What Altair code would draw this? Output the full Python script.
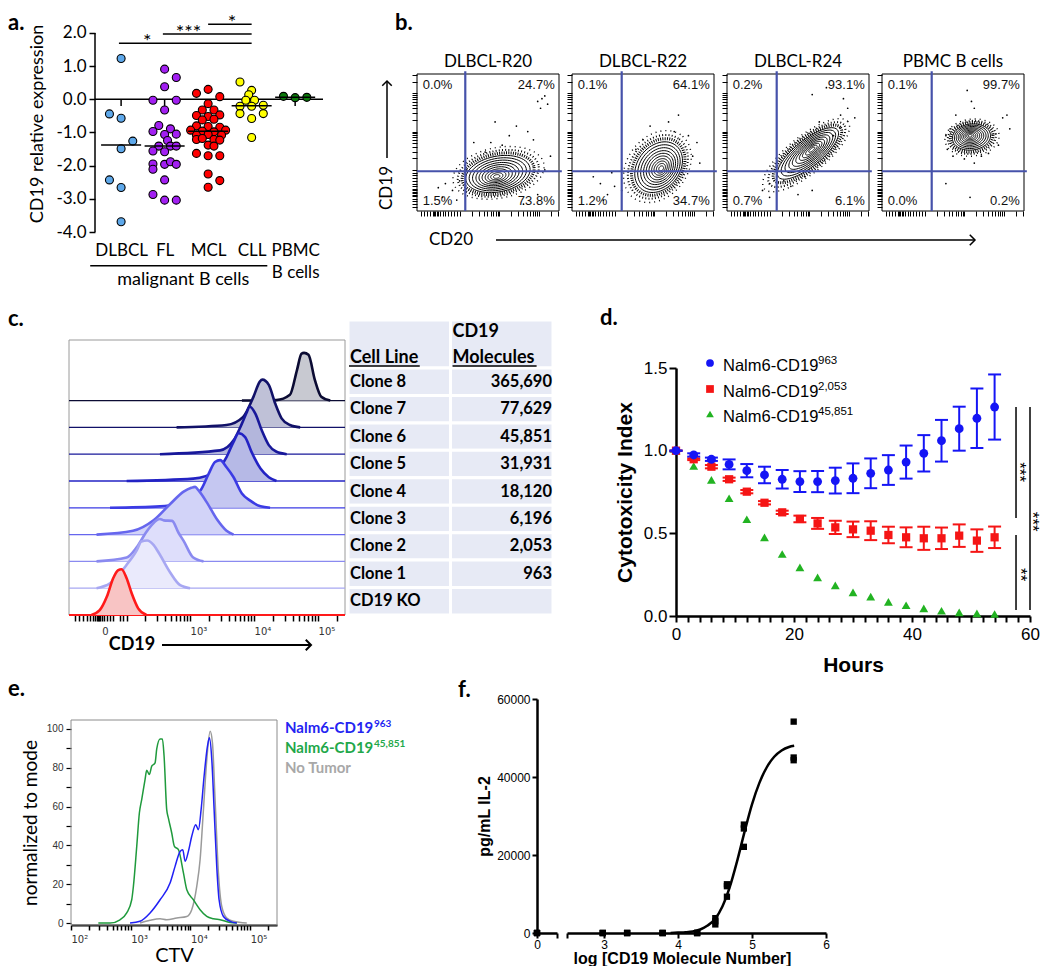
import math
import altair as alt
import pandas as pd

SANS = "Liberation Sans"
CAL = "Lato"
SUPF = "DejaVu Sans"

# ======================= DATA =======================
# (a) CD19 relative expression; dx = horizontal dot offset (half-dot steps)
A_GROUPS = ["DLBCL", "FL", "MCL", "CLL", "PBMC"]
A_COLORS = ["#5ea8ea", "#a21ff2", "#ff0000", "#ffff00", "#0b7a0b"]
DLBCL_DX = [0, -2, 0, 2, 0, -2, 0, 0]
DLBCL_VAL = [1.23, -0.44, -0.57, -1.26, -1.49, -2.43, -2.66, -3.69]
FL_DX = [0, 2, 0, -2, 2, 0, -1, -2, 1, 0, 2, 0.5, -1, 1, 2, -2, 0, -2, -2, 0, 1, 2, 0, -2, 0, 2]
FL_VAL = [0.91, 0.66, 0.38, -0.03, -0.03, -0.32, -0.79, -0.97, -0.89, -1.06, -1.05, -1.24, -1.41,
          -1.41, -1.41, -1.56, -1.58, -1.95, -2.11, -1.96, -1.88, -1.96, -2.43, -2.87, -3.04, -3.04]
MCL_DX = [0, -2, 2, 0, -1, 1, -2, 0, 2, -1, 1, -2, 0, 2, -3, -1, 1, 3, -2, 0, 2.3, -2, -1, 1, 2,
          0, 1, -2, 0, 2, 0, 2, 0]
MCL_VAL = [0.30, 0.18, 0.08, -0.13, -0.32, -0.32, -0.49, -0.52, -0.47, -0.62, -0.60, -0.80, -0.82,
           -0.84, -0.93, -0.96, -0.98, -0.93, -1.08, -1.06, -1.08, -1.21, -1.18, -1.21, -1.23,
           -1.38, -1.41, -1.63, -1.70, -1.70, -2.25, -2.45, -2.65]
CLL_DX = [-2, 0, -0.5, -1, 0.5, -2, 0, 2, -2, 2, 0, 0]
CLL_VAL = [0.52, 0.27, 0.14, -0.03, -0.03, -0.21, -0.21, -0.18, -0.43, -0.43, -0.58, -1.15]
PBMC_DX = [-2, 0, 2]
PBMC_VAL = [0.09, 0.05, 0.06]
A_SIG_X1 = [0.95, 1.96, 3.0]
A_SIG_X2 = [4.0, 4.0, 4.0]
A_SIG_Y = [1.69, 1.97, 2.26]
A_SIG_TXT = ["*", "***", "*"]
A_SIG_TXT_X = [1.6, 2.55, 3.55]

# (b) flow plots
B_TITLES = ["DLBCL-R20", "DLBCL-R22", "DLBCL-R24", "PBMC B cells"]
B_PCT_TL = ["0.0%", "0.1%", "0.2%", "0.1%"]
B_PCT_TR = ["24.7%", "64.1%", "93.1%", "99.7%"]
B_PCT_BL = ["1.5%", "1.2%", "0.7%", "0.0%"]
B_PCT_BR = ["73.8%", "34.7%", "6.1%", "0.2%"]
B_GATE_X = [34, 35, 35, 35]
B_GATE_Y = [29, 29, 29, 29]
B_CX = [57, 61, 57, 63]
B_CY = [27, 32, 42, 54]
B_A = [23, 20, 27, 13.5]
B_B = [13, 15, 9.5, 9.5]
B_ANG = [12, 55, 40, 8]
B_CORE_X = [56, 63, 60, 62]
B_CORE_Y = [25, 31, 45, 55]
B_DOT_X = [
    [85, 88, 90, 92, 87, 65, 55, 70, 78, 82, 52, 60, 40, 48, 35, 20, 25, 30, 18, 28, 15, 75, 85, 90, 94],
    [20, 25, 15, 30, 22, 35, 28, 68, 75, 82, 88, 72, 55, 50, 85, 90, 45],
    [30, 35, 25, 40, 45, 50, 60, 80, 85, 70, 82, 60, 75, 90, 65, 30, 55],
    [60, 63, 65, 52, 85, 88, 90, 45, 46, 58, 70, 65, 82, 50, 45, 62, 75, 48],
]
B_DOT_Y = [
    [80, 82, 84, 78, 75, 55, 65, 62, 58, 52, 50, 48, 50, 43, 30, 20, 15, 22, 10, 8, 17, 5, 12, 30, 40],
    [20, 12, 25, 18, 8, 15, 28, 65, 70, 55, 50, 58, 62, 52, 40, 35, 45],
    [20, 25, 15, 22, 18, 12, 15, 70, 75, 90, 82, 85, 55, 68, 65, 10, 25],
    [88, 80, 75, 70, 68, 70, 60, 55, 45, 38, 40, 35, 48, 40, 20, 10, 42, 60],
]

# (c) offset histograms (x in decades, h relative to mode) and table
C_NAMES = ["CD19 KO", "Clone 1", "Clone 2", "Clone 3", "Clone 4", "Clone 5", "Clone 6", "Clone 7", "Clone 8"]
C_MOLECULES = [None, 963, 2053, 6196, 18120, 31931, 45851, 77629, 365690]
C_CURVE_X = [
    [1.46, 1.59, 1.70, 1.80, 1.88, 1.93, 2.01, 2.09, 2.19, 2.32],
    [1.54, 1.75, 2.01, 2.17, 2.24, 2.33, 2.43, 2.53, 2.69, 2.84, 3.00],
    [1.54, 2.01, 2.17, 2.33, 2.53, 2.59, 2.72, 2.82, 2.90, 3.05, 3.21],
    [1.54, 2.11, 2.43, 2.69, 2.90, 3.02, 3.08, 3.13, 3.26, 3.42, 3.57, 3.68],
    [1.75, 2.53, 2.79, 3.16, 3.29, 3.39, 3.47, 3.57, 3.68, 3.81, 3.94, 4.10, 4.25],
    [2.01, 3.05, 3.42, 3.57, 3.68, 3.76, 3.86, 3.96, 4.10, 4.23, 4.35],
    [2.53, 3.47, 3.68, 3.81, 3.89, 3.93, 4.02, 4.12, 4.23, 4.35, 4.51],
    [2.79, 3.57, 3.83, 3.99, 4.09, 4.13, 4.23, 4.33, 4.43, 4.56, 4.72],
    [3.81, 4.35, 4.56, 4.67, 4.74, 4.78, 4.85, 4.95, 5.05, 5.19],
]
C_CURVE_H = [
    [0, 0.10, 0.38, 0.77, 0.94, 0.96, 0.77, 0.45, 0.14, 0],
    [0, 0.10, 0.49, 0.80, 0.98, 1.0, 0.91, 0.70, 0.33, 0.07, 0],
    [0, 0.08, 0.30, 0.64, 0.89, 0.86, 0.85, 0.60, 0.43, 0.08, 0],
    [0, 0.08, 0.30, 0.64, 0.90, 0.98, 1.0, 0.93, 0.68, 0.32, 0.08, 0],
    [0, 0.03, 0.08, 0.36, 0.71, 0.96, 1.0, 0.85, 0.64, 0.30, 0.15, 0.03, 0],
    [0, 0.05, 0.22, 0.50, 0.82, 1.0, 0.92, 0.61, 0.26, 0.08, 0],
    [0, 0.08, 0.29, 0.64, 0.89, 1.0, 0.85, 0.50, 0.19, 0.05, 0],
    [0, 0.05, 0.22, 0.64, 0.96, 1.0, 0.89, 0.50, 0.19, 0.05, 0],
    [0, 0.01, 0.12, 0.64, 0.98, 1.0, 0.96, 0.43, 0.08, 0],
]
C_LINE = ["#ff1a1a", "#a7a7f2", "#8a8af0", "#6666ee", "#3b3be4", "#2323c4", "#18189a", "#111168", "#0b0b33"]
C_FILL = ["#f8c4c4", "#eaeafc", "#dedefb", "#d2d3f8", "#c5c7f1", "#b6b9e6", "#b3b6dc", "#bfc1d7", "#c8c9d1"]

# (d) cytotoxicity
D_T = [0, 3, 6, 9, 12, 15, 18, 21, 24, 27, 30, 33, 36, 39, 42, 45, 48, 51, 54]
D_BLUE = [1.00, 0.974, 0.948, 0.917, 0.879, 0.853, 0.827, 0.813, 0.813, 0.819, 0.833, 0.863, 0.883,
          0.931, 0.984, 1.060, 1.133, 1.196, 1.264]
D_BLUE_ERR = [0.0, 0.01, 0.01, 0.03, 0.04, 0.05, 0.056, 0.063, 0.064, 0.078, 0.09, 0.09, 0.09, 0.10,
              0.11, 0.126, 0.133, 0.18, 0.197]
D_RED = [1.00, 0.948, 0.903, 0.827, 0.752, 0.685, 0.627, 0.587, 0.560, 0.536, 0.524, 0.516, 0.490,
         0.476, 0.470, 0.470, 0.486, 0.456, 0.476]
D_RED_ERR = [0, 0.005, 0.01, 0.01, 0.01, 0.01, 0.01, 0.02, 0.033, 0.04, 0.047, 0.057, 0.05, 0.06,
             0.07, 0.065, 0.068, 0.068, 0.065]
D_GREEN = [1.00, 0.907, 0.823, 0.712, 0.585, 0.476, 0.375, 0.294, 0.234, 0.185, 0.143, 0.117, 0.085,
           0.065, 0.046, 0.032, 0.022, 0.016, 0.012]
D_BLUE_C, D_RED_C, D_GREEN_C = "#1515f5", "#f51515", "#22b322"
D_SIG_X = [57.63, 57.63, 60.0]
D_SIG_Y1 = [1.264, 0.49, 1.264]
D_SIG_Y2 = [0.593, 0.036, 0.036]
D_SIG_TXT = ["***", "**", "***"]
D_SIG_TXT_X = [58.15, 58.3, 60.3]
D_SIG_TXT_Y = [0.87, 0.25, 0.57]

# (e) CTV histograms (x = log10 CTV, y = % of mode)
E_GREEN_X = [2.458, 2.654, 2.821, 2.933, 3.017, 3.045, 3.101, 3.145, 3.184, 3.240, 3.268, 3.313, 3.352,
             3.408, 3.436, 3.492, 3.531, 3.559, 3.603, 3.631, 3.687, 3.732, 3.799, 3.883, 3.939, 4.050,
             4.162, 4.274, 4.385, 4.497, 4.665, 4.777]
E_GREEN_Y = [0, 0, 1.7, 5.2, 12, 18.9, 39.5, 56.7, 63.6, 73.9, 78.7, 76.5, 80.8, 82.5, 89.7, 94.8, 94.8,
             85.9, 58.4, 54.1, 46.4, 39.5, 37.8, 25.8, 17.2, 12, 6.9, 3.4, 2.2, 1.7, 0.3, 0]
E_BLUE_X = [2.989, 3.156, 3.324, 3.492, 3.659, 3.743, 3.827, 3.872, 3.911, 3.966, 4.022, 4.089, 4.134,
            4.179, 4.229, 4.285, 4.318, 4.358, 4.397, 4.441, 4.480, 4.553, 4.665, 4.777]
E_BLUE_Y = [0, 0.9, 5.2, 12, 20.6, 29.2, 36.9, 37.8, 31.8, 36.9, 44.7, 50.7, 48.1, 58.4, 75.6, 91,
            95.4, 84.2, 58.4, 29.2, 12, 3.4, 0.9, 0]
E_GRAY_X = [3.156, 3.324, 3.492, 3.603, 3.771, 3.939, 4.022, 4.106, 4.162, 4.218, 4.274, 4.330, 4.369,
            4.413, 4.469, 4.525, 4.609, 4.721, 4.944]
E_GRAY_Y = [0, 1.4, 2.2, 1.7, 2.6, 3.4, 6.9, 18.9, 32.6, 58.4, 84.2, 98.8, 92.8, 63.6, 25.8, 8.6, 2.6,
            0.9, 0]

# (f) IL-2 vs log CD19 molecules
F_KO_Y = [0, 0, 0]
F_CLONE_Y = [[0, 0, 0], [0, 0, 0], [0, 0, 0], [0, 0, 0], [3800, 3000, 2200], [12500, 12000, 9300],
             [27800, 26800, 22100], [54200, 45000, 44300]]
F_FIT_X = [3.9, 4.0, 4.1, 4.2, 4.3, 4.4, 4.5, 4.6, 4.7, 4.8, 4.9, 5.0, 5.1, 5.2, 5.3, 5.4, 5.5, 5.57]
F_FIT_Y = [0, 100, 200, 400, 900, 1900, 3600, 6800, 11800, 18500, 26000, 33000, 38500, 42500, 45200,
           46800, 47700, 48000]

# ======================= LAYOUT HELPERS =======================
W, H = 1034, 958          # whole plot area (fits the 1050x980 window with its 8px margin)
M = 8                     # page margin: page coordinate = plot coordinate + 8
ONE = pd.DataFrame({"k": [0]})


def P(v):
    return v - M


def bottom_off(page_y):
    return P(page_y) - H


def left_off(page_x):
    return -P(page_x)


def ptext(txt, x, y, size=22, font=CAL, weight="bold", align="left", baseline="top",
          color="black", angle=0):
    """annotation text at page position (x, y)"""
    return alt.Chart(ONE).mark_text(
        text=txt, font=font, fontSize=size, fontWeight=weight, align=align,
        baseline=baseline, color=color, angle=angle
    ).encode(x=alt.value(P(x)), y=alt.value(P(y)))


def prule(x1, y1, x2, y2, width=1.5, color="black"):
    return alt.Chart(ONE).mark_rule(color=color, strokeWidth=width).encode(
        x=alt.value(P(x1)), y=alt.value(P(y1)), x2=alt.value(P(x2)), y2=alt.value(P(y2)))


def phead(x, y, path, size=100, width=1.5):
    return alt.Chart(ONE).mark_point(shape=path, filled=False, size=size, color="black",
                                     strokeWidth=width, opacity=1).encode(
        x=alt.value(P(x)), y=alt.value(P(y)))


def log_ticks(starts, width, upto):
    out = []
    for s in starts:
        for k in range(1, 10):
            v = s + width * math.log10(k)
            if v <= upto:
                out.append(round(v, 3))
    return out


def sc(domain, page_from, page_to):
    return alt.Scale(domain=domain, range=[P(page_from), P(page_to)], nice=False, zero=False)


# ======================= PANEL A =======================
a_rows = []
for gi, (dxs, vals) in enumerate([(DLBCL_DX, DLBCL_VAL), (FL_DX, FL_VAL), (MCL_DX, MCL_VAL),
                                  (CLL_DX, CLL_VAL), (PBMC_DX, PBMC_VAL)]):
    for dx, v in zip(dxs, vals):
        a_rows.append({"grp": A_GROUPS[gi], "cat": gi + 1, "xpos": gi + 1 + dx * 0.134, "val": v})
df_a = pd.DataFrame(a_rows)

AX_SC = sc([0.4, 5.64], 95, 323)
AY_SC = sc([-4, 2.542], 232, 15)
a_xaxis = alt.Axis(
    orient="bottom", offset=bottom_off(232), values=[1, 2, 3, 4, 5],
    labelExpr="datum.value == 1 ? 'DLBCL' : datum.value == 2 ? 'FL' : datum.value == 3 ? 'MCL' : datum.value == 4 ? 'CLL' : ['PBMC', 'B cells']",
    ticks=False, domain=False, grid=False, labelFont=CAL, labelFontSize=17, labelColor="black",
    labelPadding=10, labelLineHeight=22, labelBaseline="top", labelOverlap=False, labelFlush=False,
    title=None)
a_yaxis = alt.Axis(
    orient="left", offset=left_off(95), values=[-4, -3, -2, -1, 0, 1, 2], format=".1f",
    labelExpr="replace(datum.label, '\u2212', '-')",
    tickSize=6, tickWidth=1.5, tickColor="black", domain=False, grid=False, labelFont=CAL,
    labelFontSize=17, labelColor="black", labelPadding=3, labelOverlap=False, labelFlush=False,
    title="CD19 relative expression", titleFont=CAL, titleFontSize=18, titleFontWeight="normal",
    titleColor="black", titlePadding=9)


def AX(f):
    return alt.X(f, type="quantitative", scale=AX_SC, axis=a_xaxis)


def AY(f):
    return alt.Y(f, type="quantitative", scale=AY_SC, axis=a_yaxis)


sig_df = pd.DataFrame({"x1": A_SIG_X1, "x2": A_SIG_X2, "y": A_SIG_Y, "t": A_SIG_TXT, "tx": A_SIG_TXT_X})
br_df = pd.DataFrame({"x1": [0.29], "x2": [4.36], "y": [-5.02], "tx": [2.43], "ty": [-5.45],
                      "t": ["malignant B cells"]})
panel_a = alt.layer(
    alt.Chart(pd.DataFrame({"x1": [0.4], "x2": [5.64], "y": [0]})).mark_rule(
        color="black", strokeWidth=1.5).encode(x=AX("x1"), x2="x2", y=AY("y")),
    alt.Chart(pd.DataFrame({"x": [1, 2, 3, 4, 5], "y1": [0] * 5, "y2": [-0.2] * 5})).mark_rule(
        color="black", strokeWidth=1.5).encode(x=AX("x"), y=AY("y1"), y2="y2"),
    alt.Chart(pd.DataFrame({"x": [0.4], "y1": [-4], "y2": [2]})).mark_rule(
        color="black", strokeWidth=1.5).encode(x=AX("x"), y=AY("y1"), y2="y2"),
    alt.Chart(df_a).mark_circle(size=64, stroke="black", strokeWidth=1.1, opacity=1).encode(
        x=AX("xpos"), y=AY("val"),
        fill=alt.Fill("grp:N", scale=alt.Scale(domain=A_GROUPS, range=A_COLORS), legend=None)),
    alt.Chart(df_a).transform_aggregate(med="median(val)", groupby=["cat"]).transform_calculate(
        m1="datum.cat - 0.46", m2="datum.cat + 0.46").mark_rule(
        color="black", strokeWidth=1.5).encode(x=AX("m1"), x2="m2", y=AY("med")),
    alt.Chart(sig_df).mark_rule(color="black", strokeWidth=1.5).encode(x=AX("x1"), x2="x2", y=AY("y")),
    alt.Chart(sig_df).mark_text(font=CAL, fontSize=20, baseline="alphabetic", dy=5).encode(
        x=AX("tx"), y=AY("y"), text="t:N"),
    alt.Chart(br_df).mark_rule(color="black", strokeWidth=1.5).encode(x=AX("x1"), x2="x2", y=AY("y")),
    alt.Chart(br_df).mark_text(font=CAL, fontSize=18, baseline="middle").encode(
        x=AX("tx"), y=AY("ty"), text="t:N"),
    ptext("a.", 8, 12.5),
)

# ======================= PANEL B =======================
B_TICKS = [3, 5, 7, 9, 11, 12, 13, 14, 15, 16, 18, 20, 22, 24, 26, 28] + log_ticks([30, 58, 86], 28, 100)
GATE_C = "#4652aa"


def make_box(j):
    x0 = 417 + 155 * j
    xs = sc([0, 100], x0, x0 + 142)
    ys = sc([0, 100], 211, 74)
    common = dict(values=B_TICKS, labels=False, domain=False, grid=False, ticks=True, tickSize=5,
                  tickColor="black", tickWidth=1, title=None)
    xa = alt.Axis(orient="bottom", offset=bottom_off(211), **common)
    ya = alt.Axis(orient="left", offset=left_off(x0), **common)

    def BX(f):
        return alt.X(f, type="quantitative", scale=xs, axis=xa)

    def BY(f):
        return alt.Y(f, type="quantitative", scale=ys, axis=ya)

    def ring_df(scales, n=60):
        th = math.radians(B_ANG[j])
        rows = []
        for ri, s in enumerate(scales):
            ccx = B_CX[j] + (B_CORE_X[j] - B_CX[j]) * (1 - s)
            ccy = B_CY[j] + (B_CORE_Y[j] - B_CY[j]) * (1 - s)
            for i in range(n + 1):
                t = 2 * math.pi * i / n
                ex = s * B_A[j] * math.cos(t)
                ey = s * B_B[j] * math.sin(t)
                rows.append({"ring": ri, "i": i,
                             "x": ccx + ex * math.cos(th) - ey * math.sin(th),
                             "y": ccy + ex * math.sin(th) + ey * math.cos(th)})
        return pd.DataFrame(rows)

    layers = [alt.Chart(pd.DataFrame({"x1": [0], "x2": [100], "y1": [0], "y2": [100]})).mark_rect(
        fillOpacity=0, stroke="black", strokeWidth=1).encode(x=BX("x1"), x2="x2", y=BY("y1"), y2="y2")]
    for s_, w_, dash in [(1.42, 1.4, [1, 4]), (1.26, 2.0, [1, 2.2]), (1.12, 3.0, [1, 1.3])]:
        layers.append(alt.Chart(ring_df([s_])).mark_line(color="black", strokeWidth=w_, strokeDash=dash).encode(
            x=BX("x"), y=BY("y"), order="i:Q"))
    layers.append(alt.Chart(ring_df([1.0, 0.89, 0.78, 0.67, 0.57, 0.47, 0.37, 0.28, 0.19, 0.1])).mark_line(
        color="black", strokeWidth=1).encode(x=BX("x"), y=BY("y"), detail="ring:N", order="i:Q"))
    layers.append(alt.Chart(pd.DataFrame({"x": B_DOT_X[j], "y": B_DOT_Y[j]})).mark_circle(
        size=3, color="black", opacity=1).encode(x=BX("x"), y=BY("y")))
    layers.append(alt.Chart(pd.DataFrame({"x": [B_GATE_X[j]], "y1": [0], "y2": [102]})).mark_rule(
        color=GATE_C, strokeWidth=2.2).encode(x=BX("x"), y=BY("y1"), y2="y2"))
    layers.append(alt.Chart(pd.DataFrame({"y": [B_GATE_Y[j]], "x1": [0], "x2": [102]})).mark_rule(
        color=GATE_C, strokeWidth=2.2).encode(y=BY("y"), x=BX("x1"), x2="x2"))
    pct = pd.DataFrame({"x": [4, 97, 4, 97], "y": [92, 92, 7, 7],
                        "t": [B_PCT_TL[j], B_PCT_TR[j], B_PCT_BL[j], B_PCT_BR[j]],
                        "al": ["left", "right", "left", "right"]})
    for al in ["left", "right"]:
        layers.append(alt.Chart(pct[pct.al == al]).mark_text(
            font=SANS, fontSize=13, align=al, baseline="middle", color="#111").encode(
            x=BX("x"), y=BY("y"), text="t:N"))
    layers.append(ptext(B_TITLES[j], x0 + 71, 62, size=17, weight="normal", align="center", baseline="middle"))
    return alt.layer(*layers)


panel_b = [make_box(j) for j in range(4)]
b_notes = alt.layer(
    ptext("b.", 395, 12.5),
    ptext("CD19", 387, 188, size=17, weight="normal", align="center", baseline="middle", angle=270),
    prule(387, 82, 387, 158),
    phead(387, 81, "M-1,1L0,0L1,1", size=90),
    ptext("CD20", 451, 240, size=17, weight="normal", align="center", baseline="middle"),
    prule(496, 240, 974, 240),
    phead(975, 240, "M-1,-1L0,0L-1,1", size=110),
)

# ======================= PANEL C =======================
CX_SC = sc([1.11, 5.42], 69, 345)
CY_SC = sc([0, 10.26], 615, 340)
C_TICKS = ([1.2, 1.27, 1.33, 1.39, 1.44, 1.48, 1.52, 1.54, 1.56, 1.58, 1.6, 1.62, 1.66, 1.7, 1.75,
            1.8, 1.91, 1.96, 2.01] + log_ticks([2], 1, 2.999)[1:] + log_ticks([3, 4, 5], 1, 5.42))
c_xaxis = alt.Axis(
    orient="bottom", offset=bottom_off(615), values=C_TICKS,
    labelExpr="datum.value == 3 ? '10\u00b3' : datum.value == 4 ? '10\u2074' : datum.value == 5 ? '10\u2075' : datum.value == 1.62 ? '0' : ''",
    labelAlign="left", labelFont=SUPF, labelFontSize=10, labelColor="#333", labelPadding=5,
    labelOverlap=False, labelFlush=False, tickSize=6, tickWidth=1.5, tickColor="black",
    domain=False, grid=False, title=None)


def CX(f):
    return alt.X(f, type="quantitative", scale=CX_SC, axis=c_xaxis)


def CY(f):
    return alt.Y(f, type="quantitative", scale=CY_SC, axis=None)


c_layers = [alt.Chart(pd.DataFrame({"x1": [1.11], "x2": [5.42], "y1": [0], "y2": [10.26]})).mark_rect(
    fillOpacity=0, stroke="#9a9a9a", strokeWidth=1).encode(x=CX("x1"), x2="x2", y=CY("y1"), y2="y2")]
for k in range(8, -1, -1):
    dfk = pd.DataFrame({"x": C_CURVE_X[k], "h": C_CURVE_H[k]})
    dfk["y"] = k + dfk["h"] * 1.78
    dfk["base"] = k
    c_layers.append(alt.Chart(pd.DataFrame({"x1": [1.11], "x2": [5.42], "y": [k]})).mark_rule(
        color=C_LINE[k], strokeWidth=1.3 if k > 0 else 2.2).encode(x=CX("x1"), x2="x2", y=CY("y")))
    c_layers.append(alt.Chart(dfk).mark_area(interpolate="monotone", fill=C_FILL[k], opacity=1).encode(
        x=CX("x"), y=CY("y"), y2="base"))
    c_layers.append(alt.Chart(dfk).mark_line(interpolate="monotone", color=C_LINE[k], strokeWidth=2.6).encode(
        x=CX("x"), y=CY("y")))
c_layers += [
    ptext("c.", 8, 309),
    ptext("CD19", 132, 645, size=18, weight="bold", align="center", baseline="middle"),
    prule(162, 645, 310, 645, width=2),
    phead(311, 645, "M-1,-1L0,0L-1,1", size=110, width=2),
]
panel_c = alt.layer(*c_layers)

# table
TX_SC = sc([0, 2], 348, 553)
TY_SC = sc([0, 10.75], 320, 615)
rect_rows = [{"c0": c, "c1": c + 1, "r0": 0, "r1": 1.75} for c in (0, 1)]
for i in range(9):
    for c in (0, 1):
        rect_rows.append({"c0": c, "c1": c + 1, "r0": 1.75 + i, "r1": 2.75 + i})
t_names = list(reversed(C_NAMES))
t_vals = ["" if m is None else f"{m:,}" for m in reversed(C_MOLECULES)]
body = pd.DataFrame({"name": t_names, "val": t_vals, "r": [2.25 + i for i in range(9)],
                     "xl": [0] * 9, "xr": [2] * 9})
head = pd.DataFrame({"t": ["Cell Line", "CD19", "Molecules"], "x": [0, 1, 1], "y": [1.57, 0.62, 1.57]})
ul = pd.DataFrame({"x1": [0.01, 1.02], "x2": [0.70, 1.84], "y": [1.68, 1.68]})


def TX(f):
    return alt.X(f, type="quantitative", scale=TX_SC, axis=None)


def TY(f):
    return alt.Y(f, type="quantitative", scale=TY_SC, axis=None)


panel_t = alt.layer(
    alt.Chart(pd.DataFrame(rect_rows)).mark_rect(fill="#e7eaf5", stroke="white", strokeWidth=3).encode(
        x=TX("c0"), x2="c1", y=TY("r0"), y2="r1"),
    alt.Chart(body).mark_text(font=CAL, fontWeight="bold", fontSize=16.5, align="left",
                              baseline="middle", dx=2).encode(x=TX("xl"), y=TY("r"), text="name:N"),
    alt.Chart(body).mark_text(font=CAL, fontWeight="bold", fontSize=16.5, align="right",
                              baseline="middle", dx=-1).encode(x=TX("xr"), y=TY("r"), text="val:N"),
    alt.Chart(head).mark_text(font=CAL, fontWeight="bold", fontSize=18, align="left",
                              baseline="alphabetic", dx=2).encode(x=TX("x"), y=TY("y"), text="t:N"),
    alt.Chart(ul).mark_rule(color="black", strokeWidth=1.5).encode(x=TX("x1"), x2="x2", y=TY("y")),
)

# ======================= PANEL D =======================
DX_SC = sc([0, 60], 676, 1030)
DY_SC = sc([0, 1.5], 616, 368)
d_xaxis = alt.Axis(
    orient="bottom", offset=bottom_off(616), values=list(range(0, 61, 2)),
    labelExpr="datum.value % 20 == 0 ? datum.label : ''",
    labelFont=SANS, labelFontSize=17, labelColor="black", labelPadding=4, labelOverlap=False,
    labelFlush=False, tickSize=6, tickWidth=2, tickColor="black", domainWidth=2.5,
    domainColor="black", grid=False, title="Hours", titleFont=SANS, titleFontSize=21,
    titleFontWeight="bold", titleColor="black", titlePadding=12)
d_yaxis = alt.Axis(
    orient="left", offset=left_off(676), values=[0, 0.5, 1, 1.5], format=".1f", labelFont=SANS,
    labelFontSize=17, labelColor="black", labelPadding=2, labelOverlap=False, labelFlush=False,
    tickSize=7, tickWidth=2, tickColor="black", domainWidth=2.5, domainColor="black", grid=False,
    title="Cytotoxicity Index", titleFont=SANS, titleFontSize=21, titleFontWeight="bold",
    titleColor="black", titlePadding=8)


def DX(f):
    return alt.X(f, type="quantitative", scale=DX_SC, axis=d_xaxis)


def DY(f):
    return alt.Y(f, type="quantitative", scale=DY_SC, axis=d_yaxis)


d_df = pd.DataFrame({"t": D_T, "blue": D_BLUE, "blue_e": D_BLUE_ERR, "red": D_RED,
                     "red_e": D_RED_ERR, "green": D_GREEN})


def err_layers(col, ecol, color):
    base = alt.Chart(d_df).transform_calculate(
        lo=f"datum.{col} - datum.{ecol}", hi=f"datum.{col} + datum.{ecol}",
        c1="datum.t - 1.1", c2="datum.t + 1.1")
    return [
        base.mark_rule(color=color, strokeWidth=2).encode(x=DX("t"), y=DY("lo"), y2="hi"),
        base.mark_rule(color=color, strokeWidth=2).encode(x=DX("c1"), x2="c2", y=DY("lo")),
        base.mark_rule(color=color, strokeWidth=2).encode(x=DX("c1"), x2="c2", y=DY("hi")),
    ]


d_layers = []
d_layers += err_layers("red", "red_e", D_RED_C)
d_layers += err_layers("blue", "blue_e", D_BLUE_C)
d_layers.append(alt.Chart(d_df).mark_point(shape="triangle-up", filled=True, size=78, color=D_GREEN_C,
                                           opacity=1).encode(x=DX("t"), y=DY("green")))
d_layers.append(alt.Chart(d_df).mark_square(size=68, color=D_RED_C, opacity=1).encode(x=DX("t"), y=DY("red")))
d_layers.append(alt.Chart(d_df).mark_circle(size=78, color=D_BLUE_C, opacity=1).encode(x=DX("t"), y=DY("blue")))
for yy, shp, col, sup in [(363, "circle", D_BLUE_C, "963"), (389, "square", D_RED_C, "2,053"),
                          (414, "triangle-up", D_GREEN_C, "45,851")]:
    d_layers.append(alt.Chart(ONE).mark_point(shape=shp, filled=True, size=60, color=col, opacity=1).encode(
        x=alt.value(P(710)), y=alt.value(P(yy))))
    d_layers.append(ptext("Nalm6-CD19", 723, yy + 3, size=16.5, font=SANS, weight="normal", baseline="middle"))
    d_layers.append(ptext(sup, 818, yy - 2, size=11.5, font=SANS, weight="normal", baseline="middle"))
sig_d = pd.DataFrame({"x": D_SIG_X, "y1": D_SIG_Y1, "y2": D_SIG_Y2})
sig_dt = pd.DataFrame({"x": D_SIG_TXT_X, "y": D_SIG_TXT_Y, "t": D_SIG_TXT})
d_layers.append(alt.Chart(sig_d).mark_rule(color="black", strokeWidth=1.5).encode(x=DX("x"), y=DY("y1"), y2="y2"))
d_layers.append(alt.Chart(sig_dt).mark_text(font=SANS, fontSize=17, angle=90, align="center",
                                            baseline="middle").encode(x=DX("x"), y=DY("y"), text="t:N"))
d_layers.append(ptext("d.", 600, 308))
panel_d = alt.layer(*d_layers)

# ======================= PANEL E =======================
EX_SC = sc([2, 5.45], 71, 277)
EY_SC = sc([-1, 104.6], 925, 720)
E_TICKS = log_ticks([2, 3, 4], 1, 5.45) + [5, 5.301]
e_xaxis = alt.Axis(
    orient="bottom", offset=bottom_off(925), values=E_TICKS,
    labelExpr="datum.value == 2 ? '10\u00b2' : datum.value == 3 ? '10\u00b3' : datum.value == 4 ? '10\u2074' : datum.value == 5 ? '10\u2075' : ''",
    labelAlign="left", labelFont=SUPF, labelFontSize=10, labelColor="#333", labelPadding=4,
    labelOverlap=False, labelFlush=False, tickSize=5, tickWidth=1.5, tickColor="black",
    domainWidth=2, domainColor="black", grid=False, title="CTV", titleFont=CAL, titleFontSize=20,
    titleFontWeight="normal", titleColor="black", titlePadding=1)
e_yaxis = alt.Axis(
    orient="left", offset=left_off(71), values=list(range(0, 101, 10)),
    labelExpr="datum.value % 20 == 0 ? datum.label : ''",
    labelFont=SANS, labelFontSize=10, labelColor="#333", labelPadding=3, labelOverlap=False,
    labelFlush=False, tickSize=5, tickWidth=1.2, tickColor="black", domain=False, grid=False,
    title="normalized to mode", titleFont=CAL, titleFontSize=19, titleFontWeight="normal",
    titleColor="black", titlePadding=6)


def EX(f):
    return alt.X(f, type="quantitative", scale=EX_SC, axis=e_xaxis)


def EY(f):
    return alt.Y(f, type="quantitative", scale=EY_SC, axis=e_yaxis)


e_layers = [alt.Chart(pd.DataFrame({"x1": [2], "x2": [5.45], "y1": [-1], "y2": [104.6]})).mark_rect(
    fillOpacity=0, stroke="#8c8c8c", strokeWidth=1).encode(x=EX("x1"), x2="x2", y=EY("y1"), y2="y2")]
for xs_, ys_, col in [(E_GRAY_X, E_GRAY_Y, "#9a9a9a"), (E_GREEN_X, E_GREEN_Y, "#1f9a3c"),
                      (E_BLUE_X, E_BLUE_Y, "#2020f5")]:
    e_layers.append(alt.Chart(pd.DataFrame({"x": xs_, "y": ys_})).mark_line(
        color=col, strokeWidth=1.5, interpolate="monotone").encode(x=EX("x"), y=EY("y")))
for yy, col, txt, sup in [(728, "#2424f2", "Nalm6-CD19", "963"), (748, "#1fa84a", "Nalm6-CD19", "45,851"),
                          (768, "#a8a8a8", "No Tumor", "")]:
    e_layers.append(ptext(txt, 285, yy, size=15, weight="bold", baseline="middle", color=col))
    if sup:
        e_layers.append(ptext(sup, 374, yy - 4, size=10, weight="bold", baseline="middle", color=col))
e_layers.append(ptext("e.", 8, 679))
panel_e = alt.layer(*e_layers)

# ======================= PANEL F =======================
FY_SC = sc([0, 60000], 933, 699)
FL_SC = sc([0, 0.27], 537, 557)
FR_SC = sc([2.5, 6], 567, 826)
f_yaxis = alt.Axis(
    orient="left", offset=left_off(537), values=[0, 20000, 40000, 60000],
    labelExpr="datum.value == 0 ? '0' : datum.value == 20000 ? '20000' : datum.value == 40000 ? '40000' : '60000'",
    labelFont=SANS, labelFontSize=12, labelColor="black", labelPadding=2, labelOverlap=False,
    labelFlush=False, tickSize=5, tickWidth=2, tickColor="black", domainWidth=2.5,
    domainColor="black", grid=False, title="pg/mL IL-2", titleFont=SANS, titleFontSize=16,
    titleFontWeight="bold", titleColor="black", titlePadding=4)
f_lx = alt.Axis(orient="bottom", offset=bottom_off(933), values=[0, 0.27],
                labelExpr="datum.value == 0 ? '0' : ''", labelFont=SANS, labelFontSize=12,
                labelColor="black", labelPadding=1, tickSize=5, tickWidth=2, tickColor="black",
                domainWidth=2.5, domainColor="black", grid=False, title=None, labelFlush=False,
                labelOverlap=False)
f_rx = alt.Axis(orient="bottom", offset=bottom_off(933), values=[2.5, 3, 4, 5, 6],
                labelExpr="datum.value == 3 ? '3' : datum.value == 4 ? '4' : datum.value == 5 ? '5' : datum.value == 6 ? '6' : ''",
                labelFont=SANS, labelFontSize=12, labelColor="black", labelPadding=1, tickSize=5,
                tickWidth=2, tickColor="black", domainWidth=2.5, domainColor="black", grid=False,
                labelFlush=False, labelOverlap=False, labelSeparation=0,
                title="log [CD19 Molecule Number]", titleFont=SANS, titleFontSize=16,
                titleFontWeight="bold", titleColor="black", titlePadding=0, titleX=P(682))

f_ko = pd.DataFrame({"x": [0] * len(F_KO_Y), "y": F_KO_Y})
f_pts_rows = []
for m, ys_ in zip(C_MOLECULES[1:], F_CLONE_Y):
    for y in ys_:
        f_pts_rows.append({"x": math.log10(m), "y": y})
f_pts = pd.DataFrame(f_pts_rows)
f_fit = pd.DataFrame({"x": F_FIT_X, "y": F_FIT_Y})

panel_fl = alt.layer(
    alt.Chart(f_ko).mark_square(size=40, color="black", opacity=1).encode(
        x=alt.X("x:Q", scale=FL_SC, axis=f_lx), y=alt.Y("y:Q", scale=FY_SC, axis=f_yaxis)),
    ptext("f.", 458, 680),
)
panel_fr = alt.layer(
    alt.Chart(f_fit).mark_line(color="black", strokeWidth=2.5, interpolate="monotone").encode(
        x=alt.X("x:Q", scale=FR_SC, axis=f_rx), y=alt.Y("y:Q", scale=FY_SC, axis=None)),
    alt.Chart(f_pts).mark_square(size=40, color="black", opacity=1).encode(
        x=alt.X("x:Q", scale=FR_SC, axis=f_rx), y=alt.Y("y:Q", scale=FY_SC, axis=None)),
)

# ======================= ASSEMBLE =======================
chart = alt.layer(
    panel_a, *panel_b, b_notes, panel_c, panel_t, panel_d, panel_e, panel_fl, panel_fr
).resolve_scale(x="independent", y="independent").resolve_axis(
    x="independent", y="independent"
).properties(
    width=W, height=H, padding=0, background="white",
    autosize=alt.AutoSizeParams(type="none")
).configure_view(stroke=None)

chart.save("out.html", embed_options={"renderer": "svg", "actions": False})
